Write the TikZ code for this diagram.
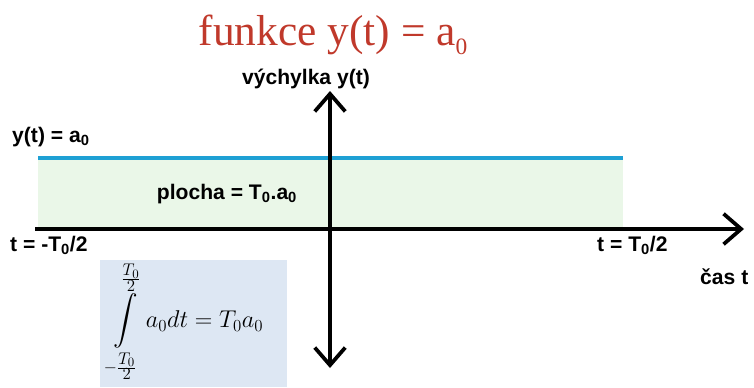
\documentclass[tikz,border=0pt]{standalone}
\usepackage{amsmath,amssymb}
\usepackage{fontspec}
\newfontfamily\arialfont{Liberation Sans}
\newfontfamily\timesfont{Liberation Serif}
\usetikzlibrary{positioning,arrows.meta}
\definecolor{titlered}{RGB}{192,57,43}
\definecolor{levelblue}{RGB}{30,160,212}
\definecolor{areagreen}{RGB}{234,247,232}
\definecolor{boxblue}{RGB}{221,231,243}

\begin{document}
\begin{tikzpicture}[x=0.03cm,y=-0.03cm,>={Straight Barb[length=15pt,width=26pt,line width=3.2pt]}]
\tikzset{
  lbl/.style={font=\arialfont\bfseries\fontsize{18}{21}\selectfont,inner sep=0pt},
  axis/.style={line width=3.4pt,->},
}
\useasboundingbox (0,0) rectangle (754,387);

%---------------------------------
% PLOCHA POD FUNKCÍ
%---------------------------------
\fill[areagreen] (38,160) rectangle (623,229);
\fill[boxblue] (100,260) rectangle (287,387);

% konstantní hodnota a0
\coordinate (L) at (38,158);
\coordinate (R) at (623,158);
\draw[levelblue,line width=3.4pt] (L) -- (R);

%---------------------------------
% OSY
%---------------------------------
\coordinate (tstart) at (35,229);
\coordinate (tend)   at (744,229);
\coordinate (ytop)   at (330,91);
\coordinate (ybot)   at (330,368);
\draw[axis] (tstart) -- (tend);
\draw[axis] (330,229) -- (ytop);
\draw[axis] (330,229) -- (ybot);

%---------------------------------
% TEXTY
%---------------------------------
\node[font=\timesfont\fontsize{37}{40}\selectfont,text=titlered,anchor=base] (title) at (333,45)
{funkce y(t) = a\raisebox{-0.22em}{\fontsize{20}{20}\selectfont 0}};
\node[lbl,anchor=base] (vych) at (306,84) {výchylka y(t)};
\node[lbl,anchor=base west] (yt) at (12,142) {y(t) = a\textsubscript{0}};
\node[lbl,anchor=base] (plocha) at (227,199) {plocha = T\textsubscript{0}.a\textsubscript{0}};
\node[lbl,anchor=base west] (tneg) at (10,251) {t = -T\textsubscript{0}/2};
\node[lbl,anchor=base west] (tpos) at (597,251) {t = T\textsubscript{0}/2};
\node[lbl,anchor=base west] (cas) at (700,284) {čas t};

% integrál
\node[font=\fontsize{21}{25}\selectfont,inner sep=0pt,anchor=west] (integral) at (109,322)
{$\displaystyle\int\limits_{-\frac{\scriptstyle T_0}{\scriptstyle 2}}^{\frac{\scriptstyle T_0}{\scriptstyle 2}} a_0dt = T_0a_0$};

\end{tikzpicture}
\end{document}
